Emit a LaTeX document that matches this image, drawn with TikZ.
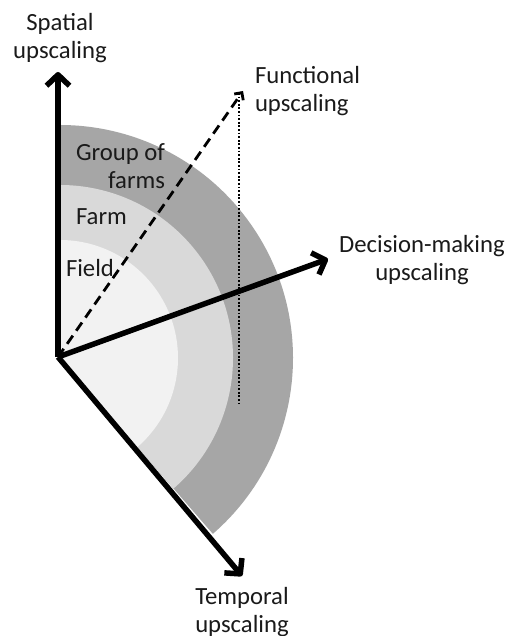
\documentclass[tikz,border=0pt]{standalone}
\usepackage{fontspec}
\setmainfont{Carlito}
\usetikzlibrary{arrows.meta}
\definecolor{ringA}{HTML}{A6A6A6}
\definecolor{ringB}{HTML}{D9D9D9}
\definecolor{ringC}{HTML}{F2F2F2}
\definecolor{txt}{HTML}{1A1A1A}
\begin{document}
\begin{tikzpicture}[x=1pt,y=1pt,
  axis/.style={line width=5.5pt,-{Straight Barb[length=11pt,width=23pt,line join=round]}},
  dasharrow/.style={line width=2.8pt,dash pattern=on 10pt off 6pt,-{Straight Barb[length=5.5pt,width=11pt]}},
  dotline/.style={line width=1.8pt,dash pattern=on 1.8pt off 1.8pt},
  lbl/.style={text=txt,font=\fontsize{24.7}{28.5}\selectfont,inner sep=0pt,outer sep=0pt}]
\useasboundingbox (0,0) rectangle (507,636);
\fill[white] (0,0) rectangle (507,636);
\coordinate (C) at (60,278);
\fill[ringA] (C) -- ++(-49:233) arc[start angle=-49,end angle=90,radius=233] -- cycle;
\fill[ringB] (C) -- ++(-49:173) arc[start angle=-49,end angle=90,radius=173] -- cycle;
\fill[ringC] (C) -- ++(-49:118) arc[start angle=-49,end angle=90,radius=118] -- cycle;
\coordinate (O) at (58,279);
\coordinate (S) at (58,564);
\coordinate (D) at (328,377);
\coordinate (F) at (243,545);
\coordinate (T) at (242,60);
\coordinate (Ptop) at (239,543);
\coordinate (Pbot) at (239,231);
\draw[dotline] (Ptop) -- (Pbot);
\draw[dasharrow] (O) -- (F);
\draw[axis] (O) -- (S);
\draw[axis] (O) -- (D);
\draw[axis] (O) -- (T);
\node[lbl,align=center,anchor=base] (spatial) at (60,577) {Spatial\\upscaling};
\node[lbl,align=left,anchor=base west] (functional) at (255,524) {Functional\\upscaling};
\node[lbl,align=center,anchor=base] (decision) at (422,355) {Decision-making\\upscaling};
\node[lbl,align=center,anchor=base] (temporal) at (242,3) {Temporal\\upscaling};
\node[lbl,align=right,anchor=base east] (group) at (165,447) {Group of\\farms};
\node[lbl,anchor=base west] (farm) at (76,411) {Farm};
\node[lbl,anchor=base west] (field) at (66,359) {Field};
\end{tikzpicture}
\end{document}
